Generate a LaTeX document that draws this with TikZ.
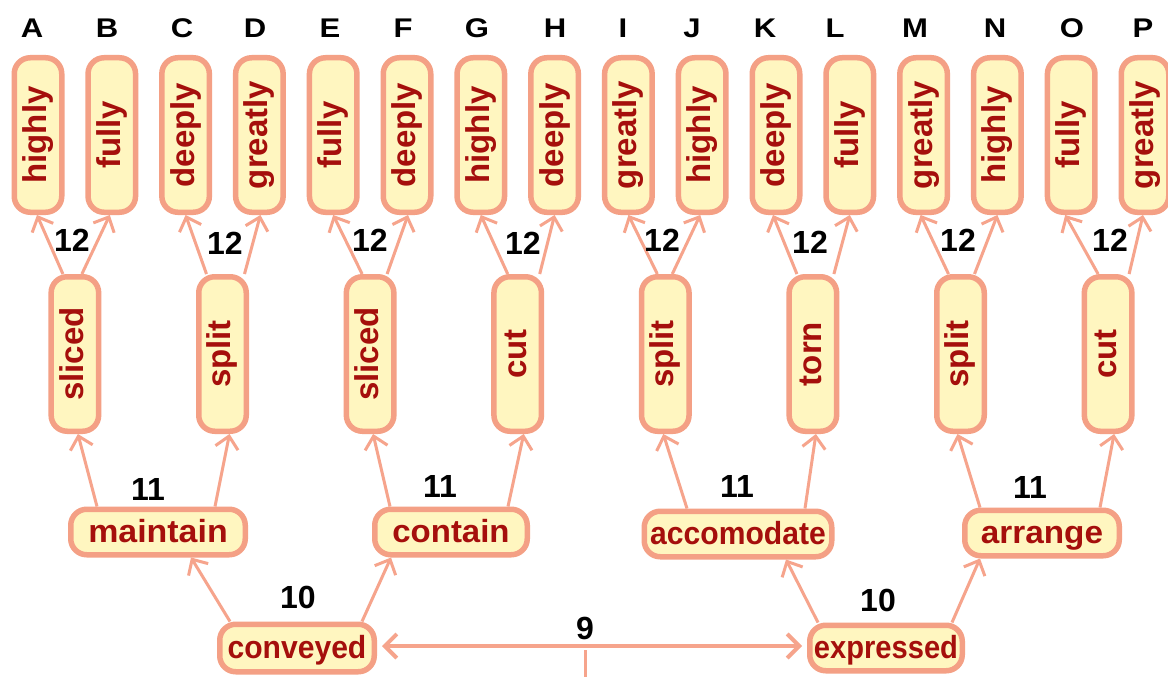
\documentclass[tikz,border=0pt]{standalone}
\usepackage{fontspec}
\usepackage{graphicx}
\setmainfont{Liberation Sans}
\usetikzlibrary{arrows.meta,calc}
\definecolor{edgec}{HTML}{F6A48C}
\definecolor{bord}{HTML}{F4A085}
\definecolor{boxfill}{HTML}{FFF6C0}
\definecolor{wordc}{HTML}{A50F0C}
\tikzset{
  box/.style={draw=bord, line width=5.5pt, fill=boxfill, rounded corners=16pt, inner sep=0pt,
    text=wordc, font=\fontsize{32}{36}\selectfont\bfseries},
  vbox/.style={box, minimum width=47.5pt, minimum height=154.5pt, font=\fontsize{33}{36}\selectfont\bfseries},
  hbox/.style={box, minimum height=45.5pt, text height=26pt, text depth=6pt},
  arr/.style={draw=edgec, line width=3pt, -{Straight Barb[length=12pt,width=23pt]}},
  biarr/.style={draw=edgec, line width=4pt, {Straight Barb[length=12pt,width=24pt]}-{Straight Barb[length=12pt,width=24pt]}},
  plainline/.style={draw=edgec, line width=3pt},
  lab/.style={font=\fontsize{32}{36}\selectfont\bfseries, text=black, inner sep=0pt},
  lettr/.style={font=\fontsize{27}{30}\selectfont\bfseries, text=black, inner sep=0pt}
}
\newcommand{\vword}[1]{\rotatebox{90}{\vphantom{hg}#1}}
\begin{document}
\begin{tikzpicture}[x=1pt,y=-1pt]
\useasboundingbox (0,0) rectangle (1168,677);
\fill[white] (0,0) rectangle (1168,677);

% column letters
\foreach \L/\x in {A/32,B/107,C/182,D/255,E/330,F/403,G/477,H/555,I/623,J/692,K/765,L/835,M/915,N/995,O/1072,P/1143}
  \node[lettr] (let\L) at (\x,28) {\scalebox{1.15}[1]{\L}};

% top row boxes
\foreach \w [count=\i from 0] in {highly,fully,deeply,greatly,fully,deeply,highly,deeply,greatly,highly,deeply,fully,greatly,highly,fully,greatly}
  \node[vbox] (t\i) at ({38+73.8*\i},135) {\vword{\w}};

% middle row boxes
\foreach \w [count=\i from 0] in {sliced,split,sliced,cut,split,torn,split,cut}
  \node[vbox] (m\i) at ({74.9+147.6*\i},354) {\vword{\w}};

% third row
\node[hbox, minimum width=174.5pt] (maintain) at (158,532) {\scalebox{1.06}[1]{maintain}};
\node[hbox, minimum width=152.5pt] (contain) at (451,532) {\scalebox{1.03}[1]{contain}};
\node[hbox, minimum width=187.5pt] (accomodate) at (738,534) {\scalebox{0.94}[1]{accomodate}};
\node[hbox, minimum width=154.5pt] (arrange) at (1042,533) {\scalebox{1.04}[1]{arrange}};

% bottom row
\node[hbox, minimum width=154.5pt, minimum height=47.5pt] (conveyed) at (297,648) {\scalebox{0.94}[1]{conveyed}};
\node[hbox, minimum width=152.5pt] (expressed) at (886,648) {\scalebox{0.91}[1]{expressed}};

% level 2 -> 1
\foreach \m/\a/\sa/\ea/\b/\sb/\eb in {0/0/-12/-1/1/7/-2, 1/2/-16/0/3/22/1, 2/4/-8/0/5/17/1, 3/6/-10/0/7/22/0,
    4/8/-8/0/9/7/-2, 5/10/-16/-3/11/21/0, 6/12/-12/-3/13/14/0, 7/14/-10/-6/15/21/-2}{
  \draw[arr] ([xshift=\sa pt]m\m.north) -- ([xshift=\ea pt]t\a.south);
  \draw[arr] ([xshift=\sb pt]m\m.north) -- ([xshift=\eb pt]t\b.south);
}

% level 3 -> 2
\draw[arr] ([xshift=-61pt]maintain.north) -- ([xshift=3pt]m0.south);
\draw[arr] ([xshift=57pt]maintain.north) -- ([xshift=7pt]m1.south);
\draw[arr] ([xshift=-61pt]contain.north) -- ([xshift=3pt]m2.south);
\draw[arr] ([xshift=57pt]contain.north) -- ([xshift=6pt]m3.south);
\draw[arr] ([xshift=-51pt]accomodate.north) -- ([xshift=-2pt]m4.south);
\draw[arr] ([xshift=67pt]accomodate.north) -- ([xshift=3pt]m5.south);
\draw[arr] ([xshift=-62pt]arrange.north) -- ([xshift=-3pt]m6.south);
\draw[arr] ([xshift=58pt]arrange.north) -- ([xshift=6pt]m7.south);

% level 4 -> 3
\draw[arr] ([xshift=-67pt]conveyed.north) -- ([xshift=33pt]maintain.south);
\draw[arr] ([xshift=65pt]conveyed.north) -- ([xshift=-60pt]contain.south);
\draw[arr] ([xshift=-68pt]expressed.north) -- ([xshift=48pt]accomodate.south);
\draw[arr] ([xshift=66pt]expressed.north) -- ([xshift=-62pt]arrange.south);

% root connector
\draw[biarr, shorten <=5pt, shorten >=5pt] ([yshift=2pt]conveyed.east) -- ([yshift=2pt]expressed.west);
\coordinate (mid) at (585,650);
\coordinate (rootend) at (585,677);
\draw[plainline] (mid) -- (rootend);

% labels
\foreach \x/\y [count=\k] in {72/240,225/243,370/240,523/243,662/240,810/242,958/240,1110/240}
  \node[lab] (twelve\k) at (\x,\y) {12};
\node[lab] (e1) at (148,489) {11};
\node[lab] (e2) at (440,486) {11};
\node[lab] (e3) at (737,486) {11};
\node[lab] (e4) at (1030,487) {11};
\node[lab] (ten1) at (298,597) {10};
\node[lab] (ten2) at (878,600) {10};
\node[lab] (nine) at (585,628) {9};
\end{tikzpicture}
\end{document}
